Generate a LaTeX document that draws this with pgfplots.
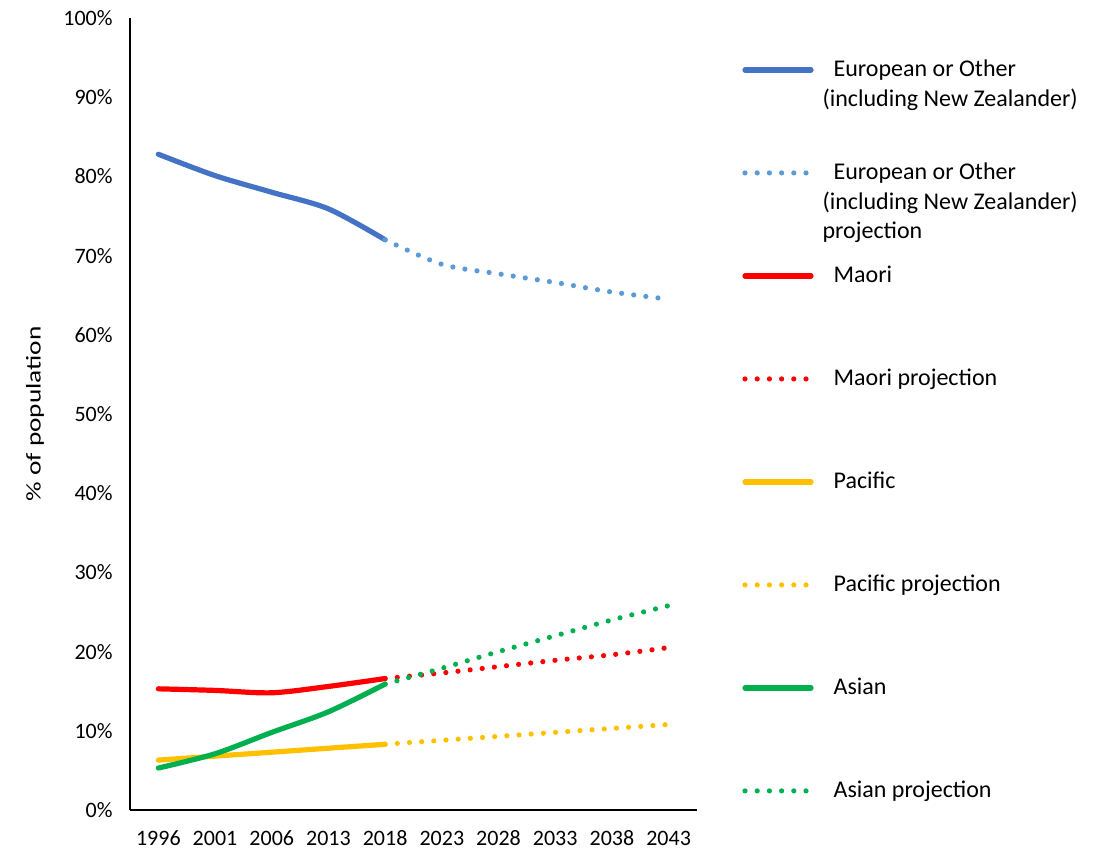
\documentclass[border=0pt]{standalone}
\usepackage{pgfplots}
\pgfplotsset{compat=1.18}
\usepackage{graphicx}
\usepackage{fontspec}
\setmainfont{Carlito}
\definecolor{euro}{HTML}{4472C4}
\definecolor{europ}{HTML}{5B9BD5}
\definecolor{maori}{HTML}{FF0000}
\definecolor{pacific}{HTML}{FFC000}
\definecolor{asian}{HTML}{00B050}
\newcommand\lgent[1]{\raisebox{20.75pt}[50pt][0pt]{\parbox[t]{145pt}{#1}}}
\begin{document}
\begin{tikzpicture}
\path[use as bounding box] (-65pt,-21.5pt) rectangle (487.5pt,405pt);
\begin{axis}[
  scale only axis, width=283.5pt, height=396pt,
  xmin=-0.5, xmax=9.5, ymin=0, ymax=100,
  xtick={0,...,9},
  xticklabels={1996,2001,2006,2013,2018,2023,2028,2033,2038,2043},
  ytick={0,10,...,100},
  yticklabel={\pgfmathprintnumber{\tick}\%},
  /pgf/number format/assume math mode=true,
  axis lines=left,
  axis line style={-, line width=0.9pt, black},
  major tick length=0pt,
  tick label style={font=\fontsize{11}{13}\selectfont},
  yticklabel style={anchor=east, inner sep=0pt, xshift=-8.5pt},
  xticklabel style={anchor=center, inner sep=0pt, yshift=-14pt},
  clip=false,
  every axis y label/.style={at={(axis description cs:-0.16755,0.5)}, anchor=center, rotate=90},
  ylabel={\fontsize{10.5}{12}\selectfont\scalebox{1.3}[1]{\% of population}},
  legend image code/.code={\draw[#1] (0pt,0pt) -- (33pt,0pt);},
  legend style={at={(1.0794,1.0)}, anchor=north west, draw=none, fill=none,
    inner sep=0pt, row sep=0pt, column sep=4.5pt,
    nodes={inner sep=0pt},
    font=\fontsize{12}{14.75}\selectfont},
  legend cell align=left,
  solidl/.style={line width=2.6pt, line cap=round, line join=round, smooth, tension=0.5},
  dotl/.style={line width=2.6pt, line cap=round, dash pattern=on 0pt off 6.1pt, smooth, tension=0.5},
]
\addplot[solidl, euro] coordinates {(0,82.8) (1,80.1) (2,78.0) (3,75.9) (4,72.0)};
\addlegendentry{\lgent{\hspace*{5.5pt}European or Other\\(including New Zealander)}}
\addplot[dotl, europ] coordinates {(4,72.0) (5,68.9) (6,67.7) (7,66.6) (8,65.4) (9,64.5)};
\addlegendentry{\lgent{\hspace*{5.5pt}European or Other\\(including New Zealander)\\projection}}
\addplot[solidl, maori] coordinates {(0,15.3) (1,15.1) (2,14.8) (3,15.6) (4,16.6)};
\addlegendentry{\lgent{\hspace*{5.5pt}Maori}}
\addplot[dotl, maori] coordinates {(4,16.6) (5,17.3) (6,18.1) (7,18.9) (8,19.6) (9,20.5)};
\addlegendentry{\lgent{\hspace*{5.5pt}Maori projection}}
\addplot[solidl, pacific] coordinates {(0,6.3) (1,6.8) (2,7.3) (3,7.8) (4,8.3)};
\addlegendentry{\lgent{\hspace*{5.5pt}Pacific}}
\addplot[dotl, pacific] coordinates {(4,8.3) (5,8.8) (6,9.3) (7,9.8) (8,10.3) (9,10.8)};
\addlegendentry{\lgent{\hspace*{5.5pt}Pacific projection}}
\addplot[solidl, asian] coordinates {(0,5.3) (1,7.1) (2,9.8) (3,12.4) (4,15.9)};
\addlegendentry{\lgent{\hspace*{5.5pt}Asian}}
\addplot[dotl, asian] coordinates {(4,15.9) (5,17.9) (6,20.0) (7,22.0) (8,24.0) (9,25.8)};
\addlegendentry{\lgent{\hspace*{5.5pt}Asian projection}}
\end{axis}
\end{tikzpicture}
\end{document}
